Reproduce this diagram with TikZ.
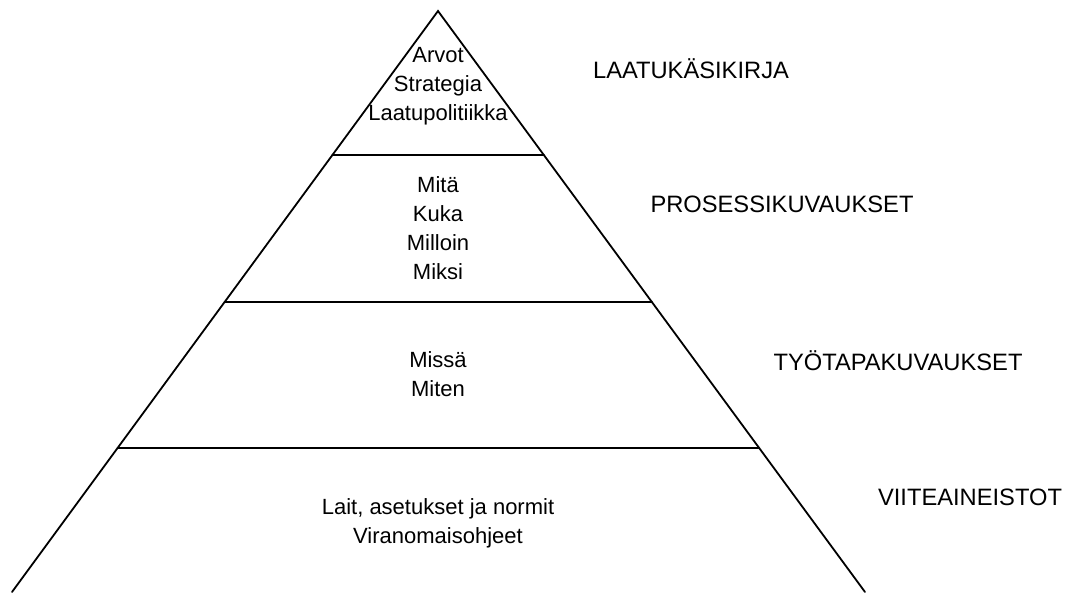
\documentclass[tikz,border=0pt]{standalone}
\usepackage{fontspec}
\setmainfont{Liberation Sans}
\usetikzlibrary{calc}

\begin{document}
\begin{tikzpicture}[
  x=1pt, y=-1pt,
  side/.style={line width=1.8pt, draw=black, line cap=round},
  tier/.style={align=center, font=\fontsize{22}{29}\selectfont, inner sep=0pt},
  lvl/.style={anchor=base, font=\fontsize{23.7}{28}\selectfont, inner sep=0pt}
]
\useasboundingbox (0,0) rectangle (1074,592);
% ---------------- pyramid
\coordinate (top) at (438,11);
\coordinate (bl) at (12,592);
\coordinate (br) at (865,592);
\draw[side] (bl) -- (top) -- (br);
\foreach \hy in {155,302,448}{
  \pgfmathsetmacro{\tierpos}{(\hy-11)/581}
  \draw[side] ($(top)!\tierpos!(bl)$) -- ($(top)!\tierpos!(br)$);
}
% ---------------- tier texts
\node[tier] (arvot) at (438,86.5) {Arvot\\Strategia\\Laatupolitiikka};
\node[tier] (mita) at (438,228.5) {Mitä\\Kuka\\Milloin\\Miksi};
\node[tier] (missa) at (438,374) {Missä\\Miten};
\node[tier] (lait) at (438,523) {Lait, asetukset ja normit\\Viranomaisohjeet};
% ---------------- level labels
\node[lvl] (kasikirja) at (691,78) {LAATUKÄSIKIRJA};
\node[lvl] (prosessi) at (782,212) {PROSESSIKUVAUKSET};
\node[lvl] (tyotapa) at (898,370) {TYÖTAPAKUVAUKSET};
\node[lvl] (viite) at (970,505) {VIITEAINEISTOT};
\end{tikzpicture}
\end{document}
